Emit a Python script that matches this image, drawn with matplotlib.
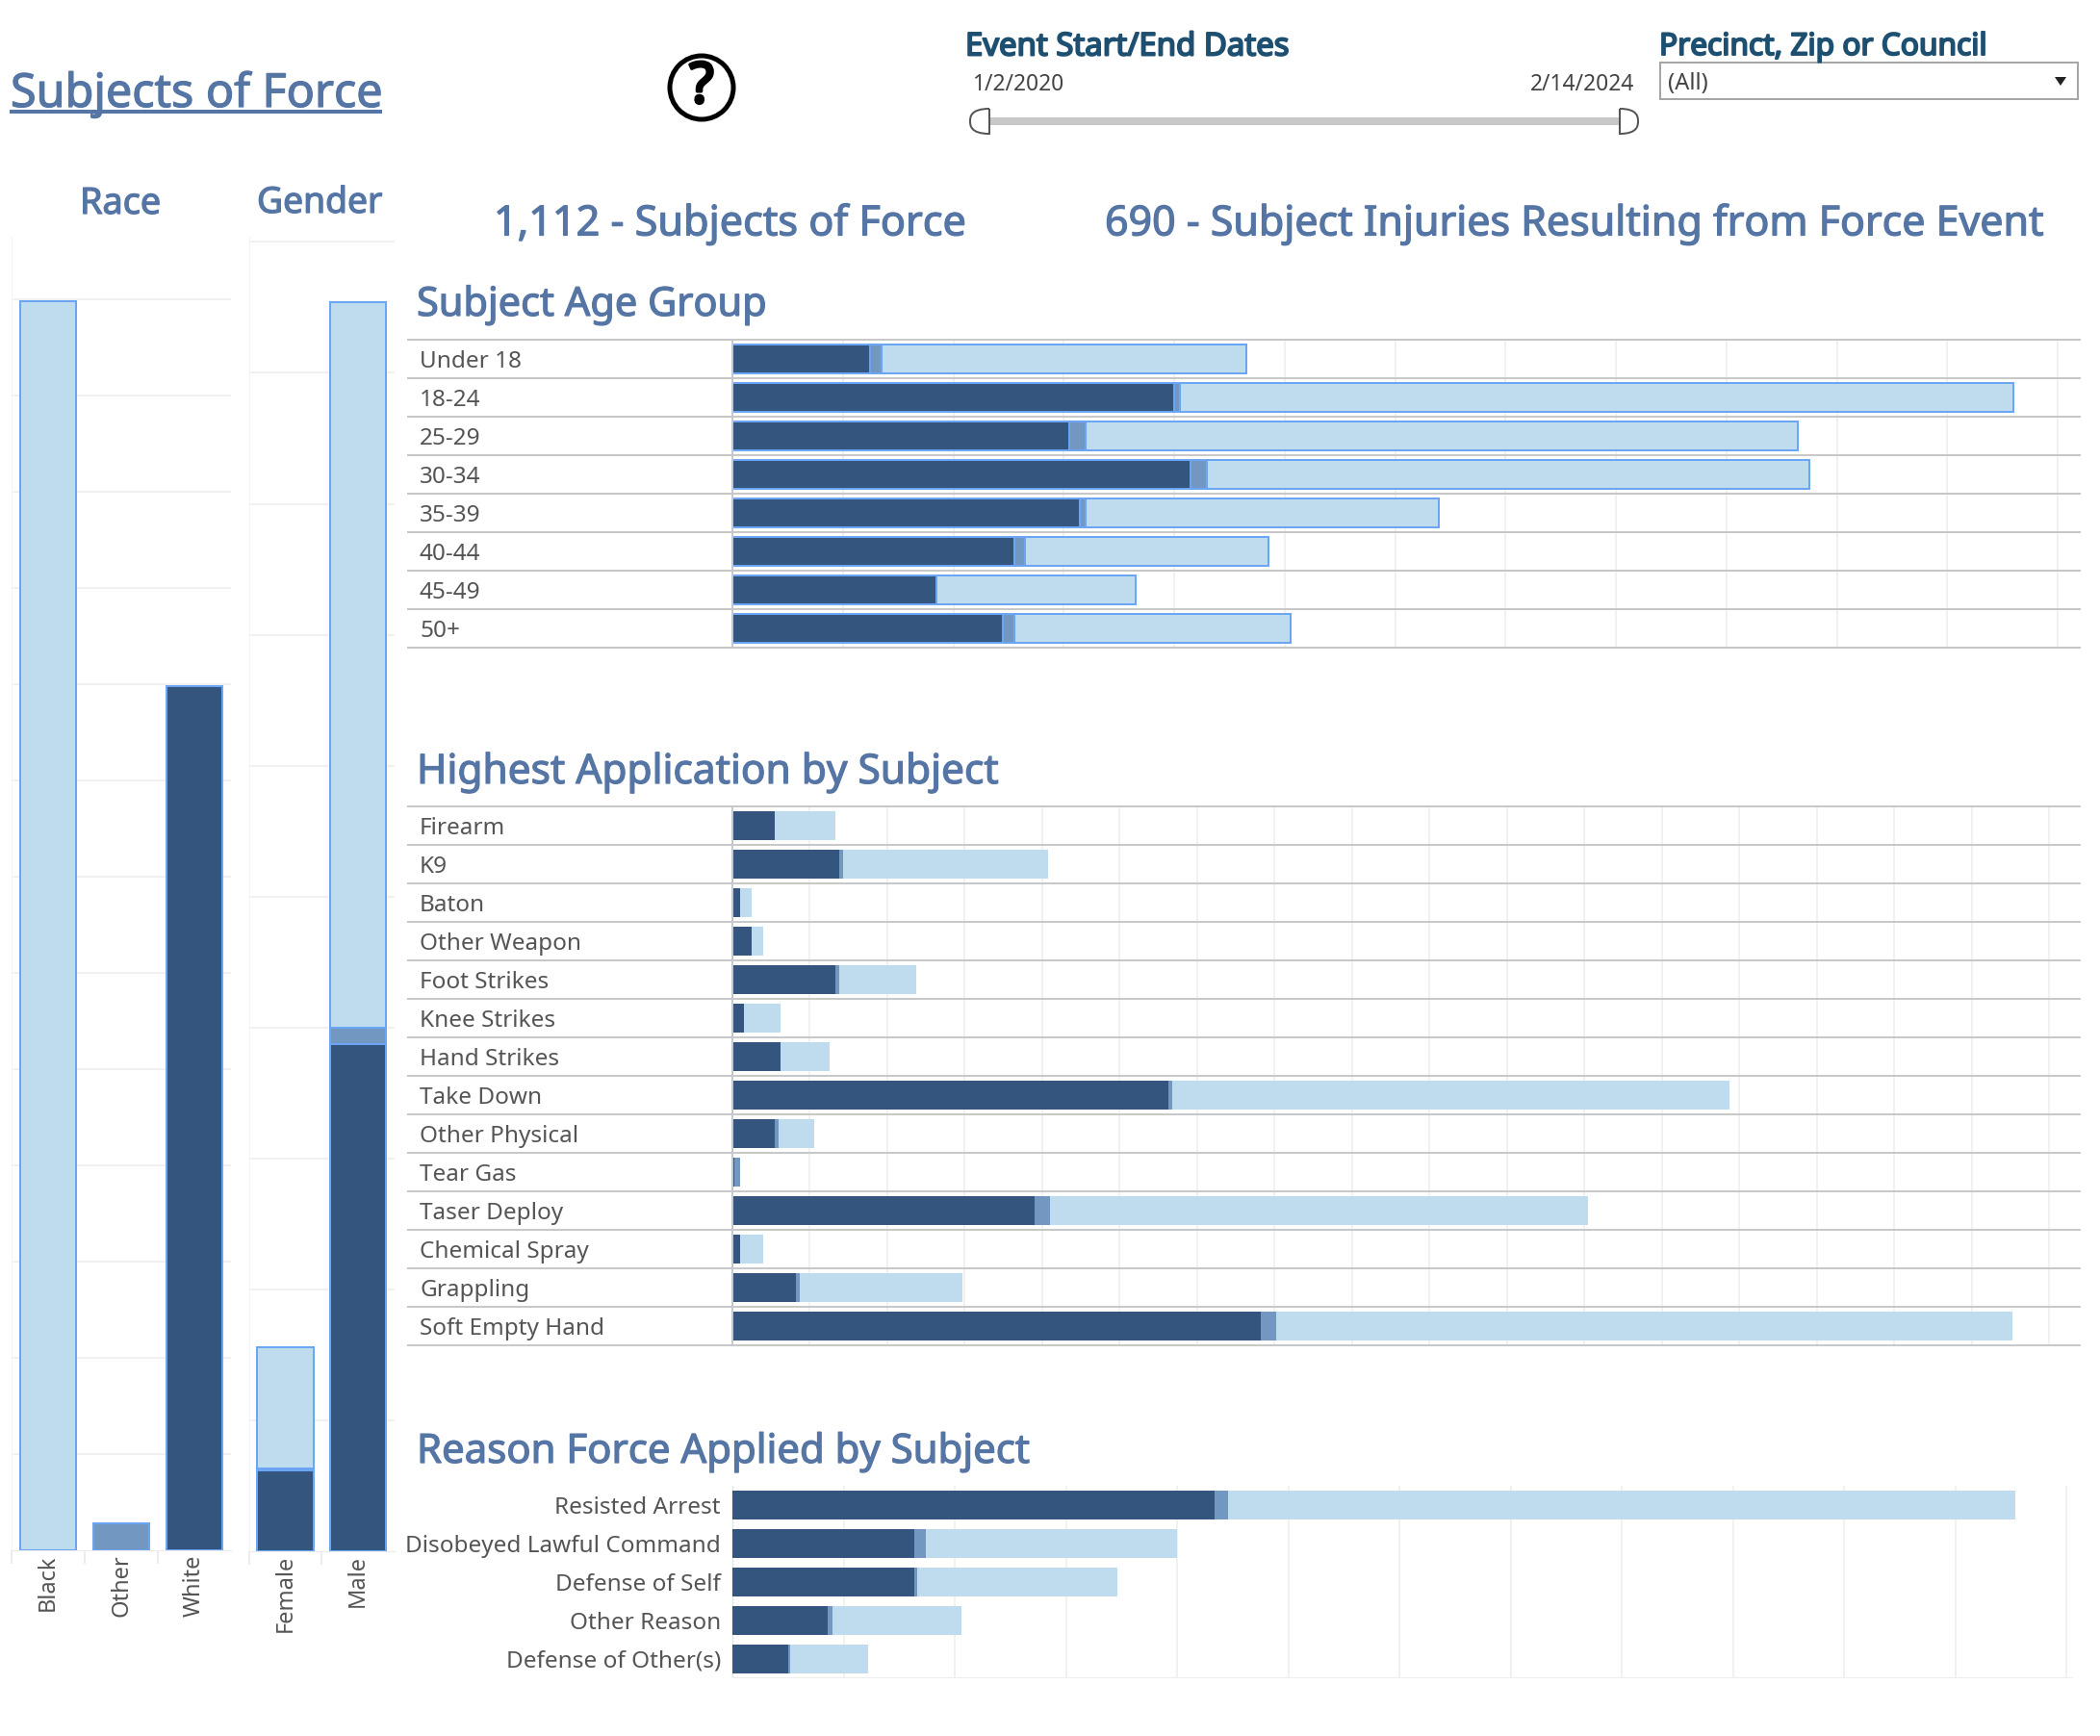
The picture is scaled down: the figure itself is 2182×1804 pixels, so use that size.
import matplotlib
matplotlib.use("Agg")
import matplotlib.pyplot as plt
import matplotlib.patheffects as pe
from matplotlib.patches import Rectangle, Circle, PathPatch, Polygon
from matplotlib.path import Path
import numpy as np

W, H = 2182, 1804
DARK, MID, LIGHT, EDGE = "#34567e", "#7297c0", "#bfdcef", "#6ba6f5"
TITLE, FILTER, LABEL = "#5575a5", "#1d4f70", "#555555"
GRID, SEP = "#f1f1f1", "#c8c8c8"
FONT = "Noto Sans"
plt.rcParams["font.family"] = [FONT, "DejaVu Sans"]

race_names = ["Black", "Other", "White"]
race_values = [649, 14, 449]
race_colors = [LIGHT, MID, DARK]

gender_names = ["Female", "Male"]
gender_white = [62, 387]
gender_other = [1, 13]
gender_black = [93, 554]

age_names = ["Under 18", "18-24", "25-29", "30-34", "35-39", "40-44", "45-49", "50+"]
age_white = [25, 80, 61, 83, 63, 51, 37, 49]
age_other = [2, 1, 3, 3, 1, 2, 0, 2]
age_black = [66, 151, 129, 109, 64, 44, 36, 50]

app_names = ["Firearm", "K9", "Baton", "Other Weapon", "Foot Strikes", "Knee Strikes",
             "Hand Strikes", "Take Down", "Other Physical", "Tear Gas", "Taser Deploy",
             "Chemical Spray", "Grappling", "Soft Empty Hand"]
app_white = [22, 55, 4, 10, 53, 6, 25, 225, 22, 1, 156, 4, 33, 273]
app_other = [0, 2, 0, 0, 2, 0, 0, 2, 2, 3, 8, 0, 2, 8]
app_black = [31, 106, 6, 6, 40, 19, 25, 288, 18, 0, 278, 12, 84, 380]

reason_names = ["Resisted Arrest", "Disobeyed Lawful Command", "Defense of Self",
                "Other Reason", "Defense of Other(s)"]
reason_white = [217, 82, 82, 43, 25]
reason_other = [6, 5, 1, 2, 1]
reason_black = [354, 113, 90, 58, 35]

fig = plt.figure(figsize=(W / 100, H / 100), dpi=100, facecolor="white")
PX = 0.72  # points per pixel at dpi 100
LW = 2 * PX


def make_ax(left, top, right, bottom):
    ax = fig.add_axes([left / W, 1 - bottom / H, (right - left) / W, (bottom - top) / H])
    ax.set_axisbelow(True)
    for s in ax.spines.values():
        s.set_visible(False)
    return ax


def stacked_h(ax, names, white, other, black, xmax, step, outline=False):
    y = np.arange(len(names))
    white, other, black = map(np.array, (white, other, black))
    kw = dict(height=0.75, zorder=3)
    if outline:
        kw.update(edgecolor=EDGE, linewidth=LW)
    ax.barh(y, white, color=DARK, **kw)
    ax.barh(y, other, left=white, color=MID, **kw)
    ax.barh(y, black, left=white + other, color=LIGHT, **kw)
    ax.set_xlim(0, xmax)
    ax.set_ylim(len(names) - 0.5, -0.5)
    ax.set_xticks(np.arange(step, xmax, step))
    ax.grid(axis="x", color=GRID, lw=LW)
    ax.tick_params(axis="x", length=0, labelbottom=False)
    ax.set_yticks(y, names)
    ax.tick_params(axis="y", length=0, labelsize=17.5, labelcolor=LABEL)


def rows_box(ax, n, left_px, right_px, ax_left):
    """Row rules reach into the label column."""
    span = right_px - ax_left
    x0 = (left_px - ax_left) / span
    tr = ax.get_yaxis_transform()
    for v in np.arange(-0.5, n, 1):
        ax.plot([x0, 1], [v, v], color=SEP, lw=LW, transform=tr, clip_on=False, zorder=4)
    ax.plot([0, 0], [-0.5, n - 0.5], color=SEP, lw=LW, transform=tr, clip_on=False, zorder=4)
    ax.tick_params(axis="y", pad=(ax_left - 436) * PX)
    for t in ax.get_yticklabels():
        t.set_ha("left")


def column_axis(ax, edges):
    ax.set_xticks(edges, minor=True)
    ax.tick_params(axis="x", which="minor", length=10, color="#ececec", width=LW)
    ax.tick_params(axis="x", which="major", length=0, labelsize=17, labelcolor=LABEL, pad=3)
    ax.tick_params(axis="y", length=0, labelleft=False)
    ax.grid(axis="y", color=GRID, lw=LW)
    ax.spines["bottom"].set_visible(True)
    ax.spines["bottom"].set_color("#ececec")
    ax.spines["left"].set_visible(True)
    ax.spines["left"].set_color("#f4f4f4")


# ---------- Race ----------
ax = make_ax(12, 246, 240, 1611)
ax.bar(range(3), race_values, width=0.77, color=race_colors, edgecolor=EDGE, linewidth=LW, zorder=3)
ax.set_xlim(-0.5, 2.5)
ax.set_ylim(0, 682.5)
ax.set_yticks(np.arange(50, 680, 50))
ax.set_xticks(range(3), race_names, rotation=90)
column_axis(ax, [-0.5, 0.5, 1.5])

# ---------- Gender ----------
ax = make_ax(258.6, 246, 410, 1612)
gw, go, gb = map(np.array, (gender_white, gender_other, gender_black))
kw = dict(width=0.77, edgecolor=EDGE, linewidth=LW, zorder=3)
ax.bar(range(2), gw, color=DARK, **kw)
ax.bar(range(2), go, bottom=gw, color=MID, **kw)
ax.bar(range(2), gb, bottom=gw + go, color=LIGHT, **kw)
ax.set_xlim(-0.5, 1.5)
ax.set_ylim(0, 1004)
ax.set_yticks(np.arange(100, 1001, 100))
ax.set_xticks(range(2), gender_names, rotation=90)
column_axis(ax, [-0.5, 0.5])

# ---------- Age ----------
ax = make_ax(761, 353, 2161, 673)
stacked_h(ax, age_names, age_white, age_other, age_black, 244.0, 20, outline=True)
rows_box(ax, len(age_names), 424, 2161, 761)

# ---------- Highest application ----------
ax = make_ax(761, 838, 2161, 1398)
stacked_h(ax, app_names, app_white, app_other, app_black, 695.7, 40)
rows_box(ax, len(app_names), 424, 2161, 761)

# ---------- Reason ----------
ax = make_ax(761, 1544, 2153, 1743)
stacked_h(ax, reason_names, reason_white, reason_other, reason_black, 602.5, 50)
ax.set_ylim(4.475, -0.5)
ax.tick_params(axis="y", pad=12 * PX)
ax.spines["bottom"].set_visible(True)
ax.spines["bottom"].set_color("#eeeeee")
ax.spines["left"].set_visible(True)
ax.spines["left"].set_color("#e6e6e6")

# ---------- Overlay: headers and filter controls ----------
ov = fig.add_axes([0, 0, 1, 1], facecolor="none", zorder=10)
ov.set_xlim(0, W)
ov.set_ylim(H, 0)
ov.axis("off")
renderer = fig.canvas.get_renderer()


def fit_text(x, y, s, width, color=TITLE, stroke=0.9, size=30):
    t = ov.text(x, y, s, color=color, fontsize=size, ha="left", va="center")
    t.set_fontsize(size * width / t.get_window_extent(renderer).width)
    if stroke:
        t.set_path_effects([pe.withStroke(linewidth=stroke, foreground=color)])
    return t


fit_text(11, 98, "Subjects of Force", 386)
ov.add_patch(Rectangle((10, 114), 387, 4, color=TITLE, lw=0))
fit_text(83, 212, "Race", 84)
fit_text(267, 212, "Gender", 130)
fit_text(513, 233, "1,112 - Subjects of Force", 490)
fit_text(1148, 233, "690 - Subject Injuries Resulting from Force Event", 974)
fit_text(433, 317, "Subject Age Group", 363)
fit_text(433, 803, "Highest Application by Subject", 604)
fit_text(433, 1509, "Reason Force Applied by Subject", 636)
fit_text(1003, 49, "Event Start/End Dates", 336, color=FILTER, stroke=1.4)
fit_text(1724, 49, "Precinct, Zip or Council", 340, color=FILTER, stroke=1.4)
fit_text(1010, 88, "1/2/2020", 95, color="#444444", stroke=0)
fit_text(1590, 88, "2/14/2024", 108, color="#444444", stroke=0)

# help icon
ov.add_patch(Circle((729, 91), 33, fc="white", ec="black", lw=5 * PX))
ov.text(729, 91, "?", fontsize=42, color="black", ha="center", va="center",
        path_effects=[pe.withStroke(linewidth=2.5, foreground="black")])

# date slider
ov.add_patch(Rectangle((1026, 122), 657, 8, color="#c8c8c8", lw=0))


def handle(x_flat, x_round, y0, y1):
    k = 0.35 * (y1 - y0)
    verts = [(x_flat, y0), (x_round, y0), (x_round, y0 + k), (x_round, (y0 + y1) / 2),
             (x_round, y1 - k), (x_round, y1), (x_flat, y1), (x_flat, y0)]
    codes = [Path.MOVETO, Path.CURVE4, Path.CURVE4, Path.CURVE4, Path.CURVE4, Path.CURVE4,
             Path.CURVE4, Path.LINETO]
    ov.add_patch(PathPatch(Path(verts, codes), fc="white", ec="#555555", lw=2 * PX))


handle(1028, 1008, 113, 139)
handle(1683, 1702, 113, 139)

# dropdown
ov.add_patch(Rectangle((1725, 65), 434, 38, fc="white", ec="#a6a6a6", lw=2 * PX))
ov.text(1733, 87, "(All)", fontsize=17, color="#444444", va="center", ha="left")
ov.add_patch(Polygon([(2135, 80), (2147, 80), (2141, 89)], color="#222222", lw=0))

fig.savefig("out.png", dpi=100)
